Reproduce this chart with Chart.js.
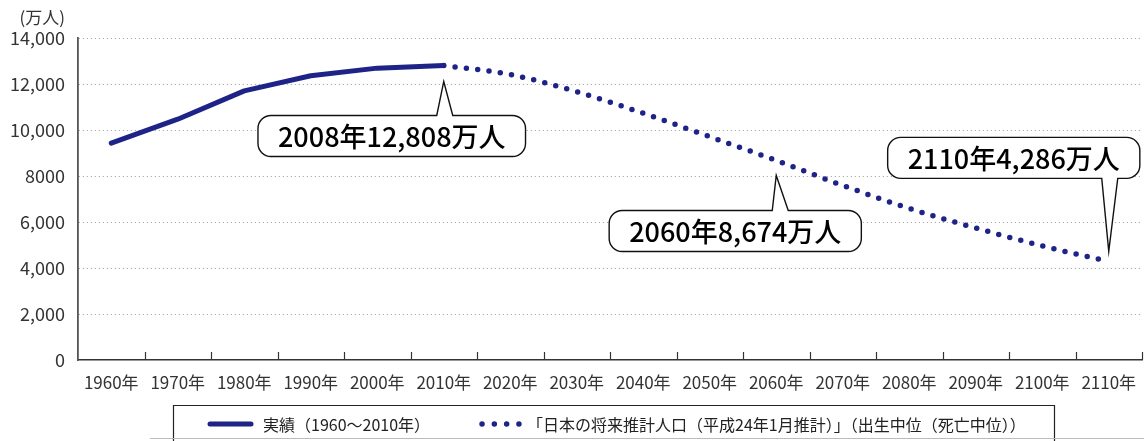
<!DOCTYPE html>
<html>
<head>
<meta charset="utf-8">
<script src="https://cdn.jsdelivr.net/npm/chart.js@4"></script>
<style>
  body { margin: 0; background: #fff; }
  canvas { display: block; }
</style>
</head>
<body>
<canvas id="chart-population" width="1144" height="441"></canvas>
<script>
// ─── Data ─────────────────────────────────────────────────────────────────────
const years = ['1960年', '1970年', '1980年', '1990年', '2000年', '2010年', '2020年', '2030年',
  '2040年', '2050年', '2060年', '2070年', '2080年', '2090年', '2100年', '2110年'];
const actual = [9430, 10470, 11700, 12360, 12690, 12806, null, null, null, null, null, null, null, null, null, null];
const projected = [null, null, null, null, null, 12806, 12410, 11662, 10728, 9708, 8674, 7590, 6591, 5739, 4961, 4286];
const yTickLabels = ['0', '2,000', '4,000', '6,000', '8000', '10,000', '12,000', '14,000'];
const seriesLabels = ['実績（1960～2010年）', '「日本の将来推計人口（平成24年1月推計）」（出生中位（死亡中位））'];
const calloutTexts = ['2008年12,808万人', '2060年8,674万人', '2110年4,286万人'];
const unitLabel = '(万人)';

const FONT = '"Noto Sans CJK JP", "Noto Sans", sans-serif';
const NAVY = '#1e2388';

// ─── Callouts (anchor = dataset/index, rest is layout) ───────────────────────
const callouts = [
  { ds: 0, index: 5, text: calloutTexts[0], side: 'below', dx: -52, tip: 16, gap: 50, base: 1 },
  { ds: 1, index: 10, text: calloutTexts[1], side: 'below', dx: -41, tip: 15, gap: 50, base: 4 },
  { ds: 1, index: 15, text: calloutTexts[2], side: 'above', dx: -95, tip: 10, gap: 83, base: 1 },
];

function roundedCallout(ctx, l, t, w, h, r, side, bx, tipX, tipY) {
  const hw = 8;
  ctx.beginPath();
  ctx.moveTo(l + r, t);
  if (side === 'below') {
    ctx.lineTo(bx - hw, t);
    ctx.lineTo(tipX, tipY);
    ctx.lineTo(bx + hw, t);
  }
  ctx.lineTo(l + w - r, t);
  ctx.arcTo(l + w, t, l + w, t + r, r);
  ctx.lineTo(l + w, t + h - r);
  ctx.arcTo(l + w, t + h, l + w - r, t + h, r);
  if (side === 'above') {
    ctx.lineTo(bx + hw, t + h);
    ctx.lineTo(tipX, tipY);
    ctx.lineTo(bx - hw, t + h);
  }
  ctx.lineTo(l + r, t + h);
  ctx.arcTo(l, t + h, l, t + h - r, r);
  ctx.lineTo(l, t + r);
  ctx.arcTo(l, t, l + r, t, r);
  ctx.closePath();
}

const calloutPlugin = {
  id: 'callouts',
  afterDatasetsDraw(chart) {
    const { ctx, scales: { x, y } } = chart;
    ctx.save();
    ctx.font = `500 27px ${FONT}`;
    callouts.forEach(c => {
      const v = chart.data.datasets[c.ds].data[c.index];
      const px = x.getPixelForValue(c.index);
      const py = y.getPixelForValue(v);
      const tw = ctx.measureText(c.text).width;
      const w = tw + 40, h = 41;
      const cx = px + c.dx;
      const l = cx - w / 2;
      let t, tipY;
      if (c.side === 'below') { t = py + c.gap; tipY = py + c.tip; }
      else { t = py - c.gap - h; tipY = py - c.tip; }
      roundedCallout(ctx, l, t, w, h, 13, c.side, px + c.base, px, tipY);
      ctx.fillStyle = '#fff';
      ctx.fill();
      ctx.lineWidth = 1.4;
      ctx.strokeStyle = '#111';
      ctx.stroke();
      ctx.fillStyle = '#000';
      ctx.textAlign = 'center';
      ctx.textBaseline = 'middle';
      ctx.fillText(c.text, cx, t + h / 2 + 1);
    });
    ctx.restore();
  }
};

// ─── Axis extras: inward x ticks, unit label ─────────────────────────────────
const axisPlugin = {
  id: 'axisExtras',
  afterDraw(chart) {
    const { ctx, chartArea, scales: { x } } = chart;
    const step = x.getPixelForValue(1) - x.getPixelForValue(0);
    ctx.save();
    ctx.strokeStyle = '#333';
    ctx.lineWidth = 1.2;
    for (let i = 1; i <= years.length; i++) {
      const xx = Math.round(x.getPixelForValue(i) - step / 2) + 0.5;
      ctx.beginPath();
      ctx.moveTo(xx, chartArea.bottom);
      ctx.lineTo(xx, chartArea.bottom - 8);
      ctx.stroke();
    }
    ctx.fillStyle = '#333';
    ctx.font = `17px ${FONT}`;
    ctx.textAlign = 'right';
    ctx.textBaseline = 'middle';
    ctx.fillText(unitLabel, 65, 18);
    ctx.restore();
  }
};

// ─── Boxed legend ────────────────────────────────────────────────────────────
const legendPlugin = {
  id: 'boxLegend',
  afterDraw(chart) {
    const { ctx } = chart;
    const [solid, dotted] = chart.data.datasets;
    const top = 405, left = 173, right = 1054, cy = 424;
    ctx.save();
    ctx.strokeStyle = '#222';
    ctx.lineWidth = 1.2;
    ctx.beginPath();
    ctx.moveTo(left + 0.5, 445);
    ctx.lineTo(left + 0.5, top + 0.5);
    ctx.lineTo(right + 0.5, top + 0.5);
    ctx.lineTo(right + 0.5, 445);
    ctx.stroke();
    ctx.strokeStyle = '#bbb';
    ctx.lineWidth = 1;
    ctx.beginPath();
    ctx.moveTo(150, 438.5);
    ctx.lineTo(1144, 438.5);
    ctx.stroke();

    ctx.font = `16px ${FONT}`;
    ctx.fillStyle = '#222';
    ctx.textBaseline = 'middle';
    ctx.textAlign = 'left';

    let sx = 208;
    ctx.strokeStyle = solid.borderColor;
    ctx.lineWidth = solid.borderWidth;
    ctx.lineCap = 'round';
    ctx.beginPath();
    ctx.moveTo(sx + 2, cy);
    ctx.lineTo(sx + 43, cy);
    ctx.stroke();
    ctx.fillText(solid.label, sx + 55, cy + 1);
    sx += 55 + ctx.measureText(solid.label).width + 50;

    ctx.strokeStyle = dotted.borderColor;
    ctx.lineWidth = dotted.borderWidth;
    ctx.setLineDash([0, 12.3]);
    ctx.beginPath();
    ctx.moveTo(sx + 2, cy);
    ctx.lineTo(sx + 40, cy);
    ctx.stroke();
    ctx.setLineDash([]);
    ctx.fillText(dotted.label, sx + 47, cy + 1);
    ctx.restore();
  }
};

// ─── Chart ────────────────────────────────────────────────────────────────────
new Chart(document.getElementById('chart-population'), {
  type: 'line',
  data: {
    labels: years,
    datasets: [
      {
        label: seriesLabels[0],
        data: actual,
        borderColor: NAVY,
        borderWidth: 5,
        borderCapStyle: 'round',
        borderJoinStyle: 'round',
        pointRadius: 0,
        tension: 0,
        spanGaps: false,
      },
      {
        label: seriesLabels[1],
        data: projected,
        borderColor: NAVY,
        borderWidth: 5.5,
        borderDash: [0, 11.4],
        borderCapStyle: 'round',
        pointRadius: 0,
        cubicInterpolationMode: 'monotone',
        spanGaps: false,
      }
    ]
  },
  options: {
    responsive: false,
    animation: false,
    events: [],
    layout: { padding: { top: 38, right: 2, bottom: 0, left: 0 } },
    plugins: {
      legend: { display: false },
      tooltip: { enabled: false },
    },
    scales: {
      x: {
        type: 'category',
        offset: true,
        grid: { display: false, offset: true },
        border: { display: true, color: '#333', width: 1.5 },
        ticks: {
          autoSkip: false, maxRotation: 0, padding: 4,
          color: '#333', font: { family: FONT, size: 17 },
        },
        afterFit: s => { s.height = 81; },
      },
      y: {
        min: 0, max: 14000,
        grid: { lineWidth: 1, drawTicks: false,
          color: ctx => ctx.tick && ctx.tick.value === 0 ? 'rgba(0,0,0,0)' : '#9a9a9a' },
        border: { display: true, color: '#555', width: 1.8, dash: [1, 3] },
        ticks: {
          stepSize: 2000, padding: 13, color: '#333',
          font: { family: FONT, size: 18 },
          callback: v => yTickLabels[v / 2000],
        },
        afterFit: s => { s.width = 78; },
      }
    }
  },
  plugins: [calloutPlugin, axisPlugin, legendPlugin]
});
</script>
</body>
</html>
